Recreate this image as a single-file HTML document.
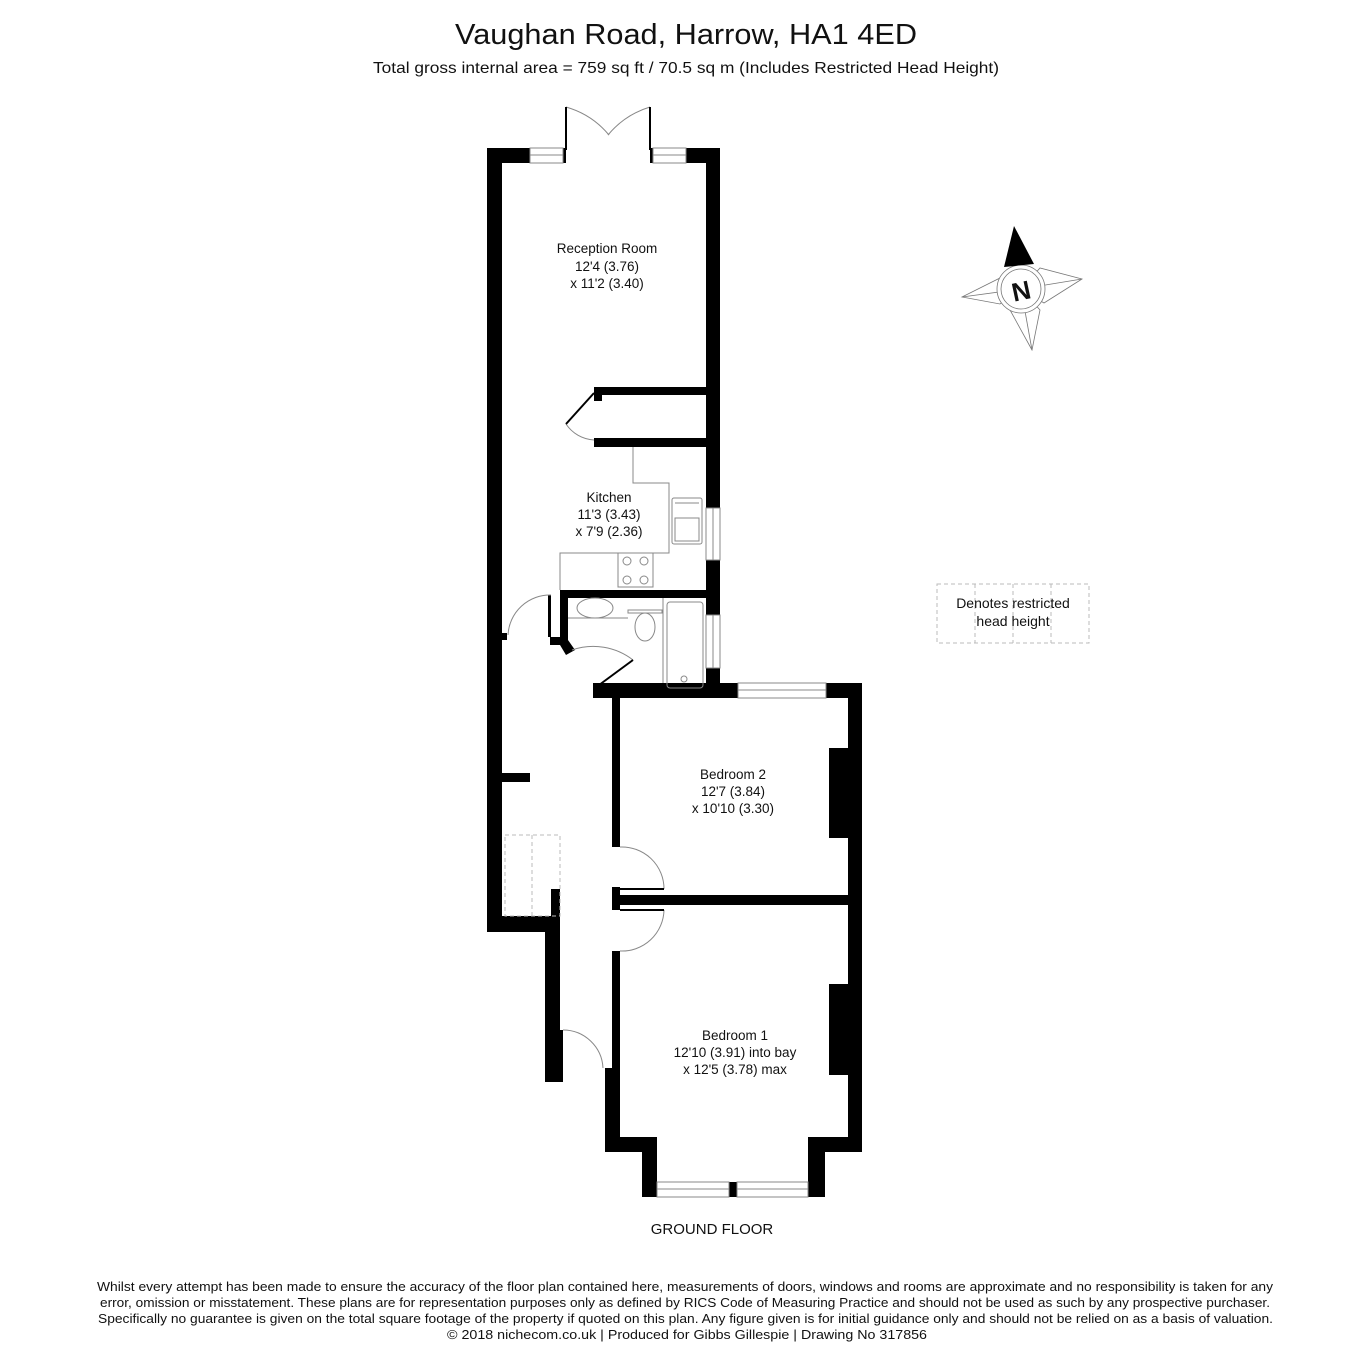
<!DOCTYPE html>
<html><head><meta charset="utf-8"><style>
body{margin:0;background:#fff}
svg{display:block}
text{font-family:"Liberation Sans","DejaVu Sans",sans-serif;fill:#111}
</style></head><body>
<svg width="1350" height="1350" viewBox="0 0 1350 1350" xmlns="http://www.w3.org/2000/svg">
<text x="455" y="44" font-size="29" textLength="462" lengthAdjust="spacingAndGlyphs">Vaughan Road, Harrow, HA1 4ED</text>
<text x="373" y="73" font-size="16" textLength="626" lengthAdjust="spacingAndGlyphs">Total gross internal area =  759 sq ft / 70.5 sq m (Includes Restricted Head Height)</text>

<g fill="#000">
<rect x="487" y="148" width="15" height="784"/>
<rect x="487" y="148" width="43" height="15"/>
<rect x="686" y="148" width="34" height="15"/>
<rect x="706" y="148" width="14" height="360"/>
<rect x="563" y="148" width="3" height="15"/>
<rect x="650" y="148" width="3" height="15"/>
<rect x="594" y="387" width="112" height="8"/>
<rect x="594" y="438" width="112" height="9"/>
<rect x="594" y="387" width="8" height="14"/>
<rect x="706" y="560" width="14" height="55"/>
<rect x="706" y="668" width="14" height="30"/>
<rect x="560" y="590" width="146" height="8"/>
<rect x="560" y="590" width="8" height="55"/>
<rect x="550" y="637" width="18" height="8"/>
<polygon points="560,645 568,640 575,650 566,655"/>
<rect x="593" y="683" width="145" height="15"/>
<polygon points="593,690 600,683 606,698 598,698"/>
<rect x="826" y="683" width="36" height="15"/>
<rect x="848" y="683" width="14" height="469"/>
<rect x="829" y="748" width="19" height="90"/>
<rect x="829" y="984" width="19" height="91"/>
<rect x="612" y="698" width="8" height="149"/>
<rect x="612" y="887" width="8" height="23"/>
<rect x="620" y="895" width="228" height="10"/>
<rect x="612" y="951" width="8" height="117"/>
<rect x="605" y="1068" width="15" height="84"/>
<rect x="605" y="1137" width="52" height="15"/>
<rect x="642" y="1137" width="15" height="60"/>
<rect x="808" y="1137" width="54" height="15"/>
<rect x="808" y="1137" width="17" height="60"/>
<rect x="729" y="1182" width="8" height="15"/>
<rect x="502" y="773" width="28" height="9"/>
<rect x="487" y="916" width="73" height="16"/>
<rect x="545" y="916" width="15" height="166"/>
<rect x="551" y="889" width="9" height="30"/>
<rect x="487" y="633" width="20" height="7"/>
<rect x="548" y="595" width="3" height="42"/>
<rect x="560" y="1030" width="3" height="52"/>
</g>

<g fill="none" stroke="#888" stroke-width="1">
<rect x="530" y="148" width="33" height="15"/><line x1="530" y1="155" x2="563" y2="155"/>
<rect x="653" y="148" width="33" height="15"/><line x1="653" y1="155" x2="686" y2="155"/>
<rect x="706" y="508" width="14" height="52"/><line x1="713" y1="508" x2="713" y2="560"/>
<rect x="706" y="615" width="14" height="53"/><line x1="713" y1="615" x2="713" y2="668"/>
<rect x="738" y="683" width="88" height="15"/><line x1="738" y1="690" x2="826" y2="690"/>
<rect x="657" y="1182" width="72" height="15"/><line x1="657" y1="1189" x2="729" y2="1189"/>
<rect x="737" y="1182" width="71" height="15"/><line x1="737" y1="1189" x2="808" y2="1189"/>
<polyline points="633,447 633,483 669,483 669,553 560,553 560,590"/>
<rect x="618" y="553" width="35" height="34"/>
<circle cx="627" cy="561" r="4"/><circle cx="644" cy="561" r="4"/>
<circle cx="627" cy="580" r="4"/><circle cx="644" cy="580" r="4"/>
<rect x="672" y="498" width="30" height="46" rx="2"/>
<rect x="675" y="518" width="24" height="23"/>
<line x1="675" y1="503" x2="699" y2="503"/>
<rect x="667" y="602" width="36" height="86" rx="3"/>
<line x1="663" y1="598" x2="663" y2="683"/>
<circle cx="684" cy="679" r="3"/>
<ellipse cx="645" cy="627" rx="10" ry="14"/>
<rect x="628" y="610" width="34" height="3"/>
<ellipse cx="595" cy="608" rx="18" ry="10"/>
<line x1="568" y1="618" x2="628" y2="618"/>
<path d="M566,107 A87,87 0 0 1 609,135"/>
<path d="M650,107 A87,87 0 0 0 608,135"/>
<path d="M566,424 A36,36 0 0 0 594,440"/>
<path d="M551,595 A42,42 0 0 0 508,635"/>
<path d="M572,650 A65,65 0 0 1 633,660"/>
<path d="M620,847 A42,42 0 0 1 664,889"/>
<path d="M620,951 A42,42 0 0 0 664,910"/>
<path d="M563,1030 A40,40 0 0 1 603,1068"/>
</g>
<g stroke="#000" stroke-width="2" fill="none">
<line x1="566" y1="107" x2="566" y2="150"/>
<line x1="650" y1="107" x2="650" y2="150"/>
<line x1="594" y1="393" x2="566" y2="424"/>
<line x1="595" y1="688" x2="633" y2="660"/>
<line x1="620" y1="889" x2="664" y2="889"/>
<line x1="620" y1="910" x2="664" y2="910"/>
</g>
<g fill="none" stroke="#bbb" stroke-width="1" stroke-dasharray="4,3">
<rect x="505" y="835" width="55" height="81"/>
<line x1="532" y1="835" x2="532" y2="916"/>
<rect x="937" y="584" width="152" height="59"/>
<line x1="975" y1="584" x2="975" y2="643"/>
<line x1="1013" y1="584" x2="1013" y2="643"/>
<line x1="1051" y1="584" x2="1051" y2="643"/>
</g>
<text x="1013" y="608" font-size="14" text-anchor="middle">Denotes restricted</text>
<text x="1013" y="626" font-size="14" text-anchor="middle">head height</text>

<g font-size="13.5" text-anchor="middle">
<text x="607" y="253">Reception Room</text><text x="607" y="271">12'4 (3.76)</text><text x="607" y="288">x 11'2 (3.40)</text>
<text x="609" y="502">Kitchen</text><text x="609" y="519">11'3 (3.43)</text><text x="609" y="536">x 7'9 (2.36)</text>
<text x="733" y="779">Bedroom 2</text><text x="733" y="796">12'7 (3.84)</text><text x="733" y="813">x 10'10 (3.30)</text>
<text x="735" y="1040">Bedroom 1</text><text x="735" y="1057">12'10 (3.91) into bay</text><text x="735" y="1074">x 12'5 (3.78) max</text>
</g>
<text x="712" y="1234" font-size="15" text-anchor="middle">GROUND FLOOR</text>

<g stroke="#777" stroke-width="0.8" fill="none">
<polygon points="962,297 1000,278 1021,289 1000,304"/>
<line x1="962" y1="297" x2="1021" y2="289"/>
<polygon points="1082,279 1040,268 1021,289 1044,303"/>
<line x1="1082" y1="279" x2="1021" y2="289"/>
<polygon points="1032,350 1010,310 1021,289 1040,310"/>
<line x1="1032" y1="350" x2="1021" y2="289"/>
<circle cx="1021" cy="289" r="24" fill="#fff"/><circle cx="1021" cy="289" r="20"/>
</g>
<polygon points="1014,226 1004,267 1034,264" fill="#000"/>
<text x="1021" y="300" font-size="26" font-weight="bold" text-anchor="middle" transform="rotate(-12 1021 290)">N</text>

<g font-size="12.5">
<text x="97" y="1291" textLength="1176" lengthAdjust="spacingAndGlyphs">Whilst every attempt has been made to ensure the accuracy of the floor plan contained here, measurements of doors, windows and rooms are approximate and no responsibility is taken for any</text>
<text x="100" y="1307" textLength="1170" lengthAdjust="spacingAndGlyphs">error, omission or misstatement. These plans are for representation purposes only as defined by RICS Code of Measuring Practice and should not be used as such by any prospective purchaser.</text>
<text x="98" y="1323" textLength="1175" lengthAdjust="spacingAndGlyphs">Specifically no guarantee is given on the total square footage of the property if quoted on this plan. Any figure given is for initial guidance only and should not be relied on as a basis of valuation.</text>
<text x="447" y="1339" textLength="480" lengthAdjust="spacingAndGlyphs">© 2018 nichecom.co.uk  |  Produced for Gibbs Gillespie  |  Drawing No 317856</text>
</g>
</svg>
</body></html>
